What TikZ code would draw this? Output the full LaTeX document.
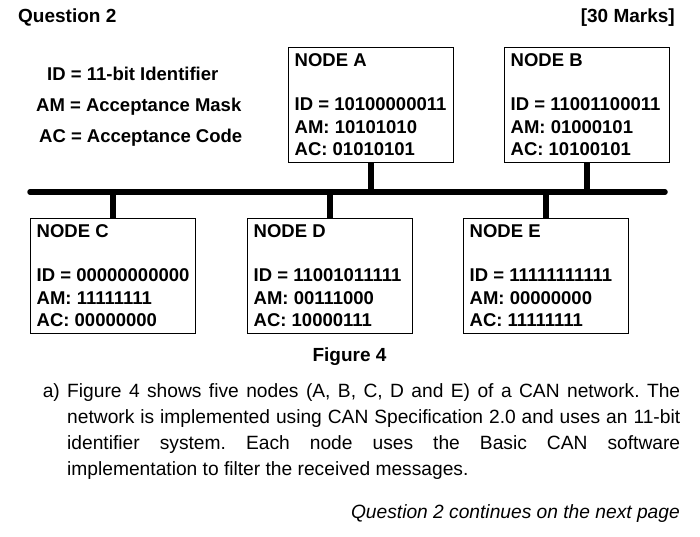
\documentclass[tikz,border=0pt]{standalone}
\usepackage{fontspec}
\setmainfont{Liberation Sans}
\frenchspacing
\begin{document}
\begin{tikzpicture}[x=1pt,y=-1pt,
  nodebox/.style={draw, line width=1.3pt, minimum width=165pt, minimum height=115pt, anchor=north west, inner sep=0pt},
  boxtxt/.style={anchor=base west, inner sep=0pt, font=\fontsize{18.5}{22}\selectfont\bfseries},
  headtxt/.style={inner sep=0pt, font=\fontsize{19}{22}\selectfont\bfseries},
  paratxt/.style={anchor=base west, inner sep=0pt, font=\fontsize{19.2}{26}\selectfont},
  busline/.style={line width=5.5pt, line cap=round},
  stubline/.style={line width=5.5pt}]
\useasboundingbox (0,0) rectangle (700,536);

% headings
\node[headtxt, anchor=base west] (q2) at (18,22) {Question 2};
\node[headtxt, anchor=base east] (marks) at (675,22) {[30 Marks]};

% legend
\node[boxtxt] (l1) at (47,80) {ID = 11-bit Identifier};
\node[boxtxt] (l2) at (36,111) {AM = Acceptance Mask};
\node[boxtxt] (l3) at (39,142.5) {AC = Acceptance Code};

% boxes
\node[nodebox] (A) at (288,47) {};
\node[nodebox] (B) at (504,47) {};
\node[nodebox] (C) at (30,218) {};
\node[nodebox] (D) at (247,218) {};
\node[nodebox] (E) at (463,218) {};

\foreach \n/\id/\am/\ac in {A/10100000011/10101010/01010101,
                            B/11001100011/01000101/10100101,
                            C/00000000000/11111111/00000000,
                            D/11001011111/00111000/10000111,
                            E/11111111111/00000000/11111111}{
  \node[boxtxt] (\n-h)  at ([xshift=6.5pt,yshift=-19pt]\n.north west) {NODE \n};
  \node[boxtxt] (\n-id) at ([xshift=6.5pt,yshift=-63pt]\n.north west) {ID = \id};
  \node[boxtxt] (\n-am) at ([xshift=6.5pt,yshift=-86pt]\n.north west) {AM: \am};
  \node[boxtxt] (\n-ac) at ([xshift=6.5pt,yshift=-108.5pt]\n.north west) {AC: \ac};
}

% bus
\coordinate (busL) at (30,192);
\coordinate (busR) at (665,192);
\draw[busline] (busL) -- (busR);
\foreach \n in {A,B}{ \draw[stubline] (\n.south) -- (\n.south |- busL); }
\foreach \n in {C,D,E}{ \draw[stubline] (\n.north) -- (\n.north |- busL); }

% caption
\node[headtxt, anchor=base] (fig) at (349.5,361.5) {Figure 4};

% paragraph
\node[paratxt] (pa) at (42.6,397) {a)};
\node[paratxt] (p1) at (67,397) {\makebox[613pt][s]{Figure 4 shows five nodes (A, B, C, D and E) of a CAN network. The}};
\node[paratxt] (p2) at (67,423) {\makebox[613pt][s]{network is implemented using CAN Specification 2.0 and uses an 11-bit}};
\node[paratxt] (p3) at (67,449) {\makebox[613pt][s]{identifier system. Each node uses the Basic CAN software}};
\node[paratxt] (p4) at (67,475) {implementation to filter the received messages.};

\node[paratxt, anchor=base east, font=\fontsize{19.2}{26}\selectfont\itshape] (cont) at (680,518) {Question 2 continues on the next page};
\end{tikzpicture}
\end{document}
